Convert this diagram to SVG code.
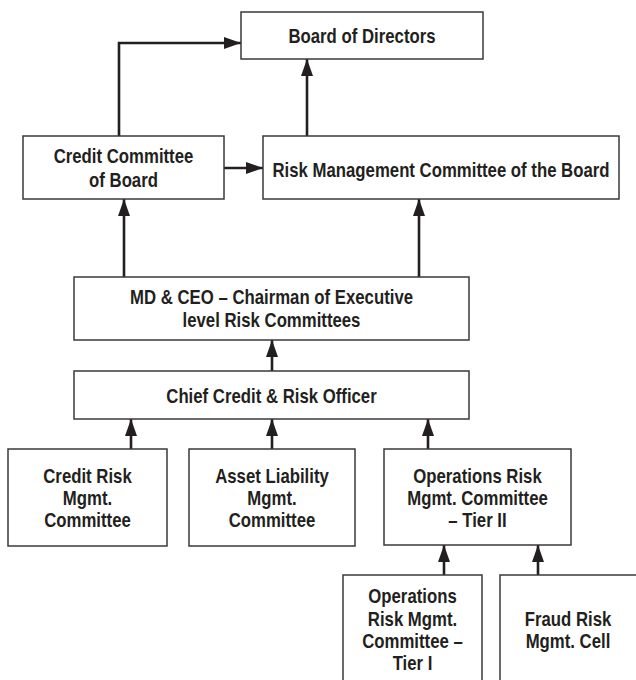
<svg xmlns="http://www.w3.org/2000/svg" width="636" height="680" viewBox="0 0 636 680">
<defs>
<marker id="ah" markerUnits="userSpaceOnUse" markerWidth="17" markerHeight="12" refX="17" refY="6" orient="auto">
<path d="M0,0 L17,6 L0,12 Z" fill="#231f20"/>
</marker>
<style>
.box{fill:#fff;stroke:#3a3a3a;stroke-width:1.5}
.t{font-family:"Liberation Sans",Arial,sans-serif;font-weight:bold;font-size:19.5px;fill:#231f20;text-anchor:middle}
.c{fill:none;stroke:#231f20;stroke-width:2.6;marker-end:url(#ah)}
</style>
</defs>
<rect width="636" height="680" fill="#fff"/>
<g id="connectors">
<path class="c" d="M119,136 V43 H241"/>
<path class="c" d="M307,136 V59"/>
<path class="c" d="M224,168 H263"/>
<path class="c" d="M124,277 V199"/>
<path class="c" d="M419,277 V199"/>
<path class="c" d="M272,371 V340"/>
<path class="c" d="M131,449 V419"/>
<path class="c" d="M272,449 V419"/>
<path class="c" d="M428,449 V419"/>
<path class="c" d="M444,575 V545"/>
<path class="c" d="M538,575 V545"/>
</g>
<g id="board">
<rect class="box" x="241" y="12" width="242" height="47"/>
<text class="t" transform="matrix(0.86 0 0 1 362 43)">Board of Directors</text>
</g>
<g id="credit-committee">
<rect class="box" x="23" y="136" width="201" height="63"/>
<text class="t" transform="matrix(0.86 0 0 1 123.5 163)">Credit Committee</text>
<text class="t" transform="matrix(0.86 0 0 1 123.5 187)">of Board</text>
</g>
<g id="risk-committee">
<rect class="box" x="263" y="136" width="356" height="63"/>
<text class="t" transform="matrix(0.86 0 0 1 441 177)">Risk Management Committee of the Board</text>
</g>
<g id="md-ceo">
<rect class="box" x="74" y="277" width="395" height="63"/>
<text class="t" transform="matrix(0.86 0 0 1 271.5 304)">MD &amp; CEO – Chairman of Executive</text>
<text class="t" transform="matrix(0.86 0 0 1 271.5 327)">level Risk Committees</text>
</g>
<g id="ccro">
<rect class="box" x="74" y="371" width="395" height="48"/>
<text class="t" transform="matrix(0.86 0 0 1 271.5 403)">Chief Credit &amp; Risk Officer</text>
</g>
<g id="credit-risk">
<rect class="box" x="8" y="449" width="159" height="97"/>
<text class="t" transform="matrix(0.86 0 0 1 87.5 483)">Credit Risk</text>
<text class="t" transform="matrix(0.86 0 0 1 87.5 505)">Mgmt.</text>
<text class="t" transform="matrix(0.86 0 0 1 87.5 527)">Committee</text>
</g>
<g id="alm">
<rect class="box" x="189" y="449" width="166" height="97"/>
<text class="t" transform="matrix(0.86 0 0 1 272 483)">Asset Liability</text>
<text class="t" transform="matrix(0.86 0 0 1 272 505)">Mgmt.</text>
<text class="t" transform="matrix(0.86 0 0 1 272 527)">Committee</text>
</g>
<g id="ops-tier2">
<rect class="box" x="384" y="449" width="187" height="96"/>
<text class="t" transform="matrix(0.86 0 0 1 477.5 483)">Operations Risk</text>
<text class="t" transform="matrix(0.86 0 0 1 477.5 505)">Mgmt. Committee</text>
<text class="t" transform="matrix(0.86 0 0 1 477.5 527)">– Tier II</text>
</g>
<g id="ops-tier1">
<rect class="box" x="343" y="575" width="139" height="120"/>
<text class="t" transform="matrix(0.86 0 0 1 412.5 603)">Operations</text>
<text class="t" transform="matrix(0.86 0 0 1 412.5 626)">Risk Mgmt.</text>
<text class="t" transform="matrix(0.86 0 0 1 412.5 648)">Committee –</text>
<text class="t" transform="matrix(0.86 0 0 1 412.5 670)">Tier I</text>
</g>
<g id="fraud">
<rect class="box" x="500" y="575" width="140" height="120"/>
<text class="t" transform="matrix(0.86 0 0 1 568 626)">Fraud Risk</text>
<text class="t" transform="matrix(0.86 0 0 1 568 648)">Mgmt. Cell</text>
</g>
</svg>
